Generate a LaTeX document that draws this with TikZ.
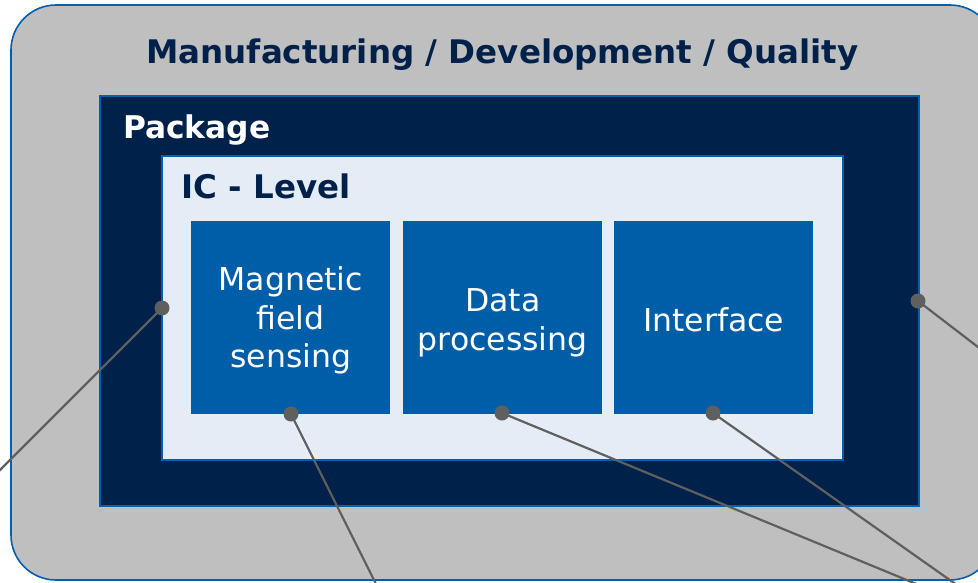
\documentclass[tikz,border=0pt]{standalone}
\usepackage{fontspec}
\setmainfont{DejaVu Sans}
\definecolor{outergray}{RGB}{191,191,191}
\definecolor{navy}{RGB}{0,33,74}
\definecolor{edgeblue}{RGB}{0,96,176}
\definecolor{boxblue}{RGB}{0,94,168}
\definecolor{icfill}{RGB}{228,236,245}
\definecolor{linegray}{RGB}{95,95,95}
\begin{document}
\begin{tikzpicture}[x=1pt,y=-1pt,
  framebox/.style={draw=edgeblue, line width=2pt, anchor=north west, inner sep=0pt, outer sep=0pt},
  funcbox/.style={fill=boxblue, draw=none, anchor=north west, inner sep=0pt, minimum width=199pt, minimum height=193pt},
  functext/.style={text=white, align=center, font=\fontsize{31.5}{38.5}\selectfont},
  heading/.style={font=\bfseries\fontsize{32.5}{38}\selectfont},
  dot/.style={circle, fill=linegray, inner sep=0pt, minimum size=15pt},
  leader/.style={draw=linegray, line width=2.2pt}
]
\useasboundingbox (0,0) rectangle (978,582);
\clip (0,0) rectangle (978,582);
% outer frame
\draw[fill=outergray, draw=edgeblue, line width=1.6pt, rounded corners=45pt] (11,5) rectangle (995,580);
\node[heading, text=navy, anchor=base] (title) at (502.5,63) {Manufacturing / Development / Quality};
% package
\node[framebox, fill=navy, minimum width=819pt, minimum height=410pt] (pkg) at (100,96) {};
\node[heading, font=\bfseries\fontsize{31.3}{38}\selectfont, text=white, anchor=base west] (pkglabel) at (119.5,138) {Package};
% IC level
\node[framebox, fill=icfill, minimum width=681pt, minimum height=304pt] (ic) at (162,156) {};
\node[heading, text=navy, anchor=base west] (iclabel) at (178,198) {IC - Level};
% function boxes
\node[funcbox] (mag) at (191,221) {};
\node[funcbox] (data) at (403,221) {};
\node[funcbox] (intf) at (614,221) {};
\node[functext] (magt) at ([yshift=-3pt]mag.center) {Magnetic\\field\\sensing};
\node[functext] (datat) at ([yshift=-5pt]data.center) {Data\\processing};
\node[functext] (intft) at ([yshift=-2pt]intf.center) {Interface};
% dots
\node[dot] (d1) at (162,308) {};
\node[dot] (d2) at (918,301) {};
\node[dot] (d3) at (291,414) {};
\node[dot] (d4) at (502,413) {};
\node[dot] (d5) at (713,413) {};
% free ends
\coordinate (e1) at (-20,490);
\coordinate (e2) at (1004,367);
\coordinate (e3) at (385,602);
\coordinate (e4) at (960,602);
\coordinate (e5) at (981,602);
\draw[leader] (d1.center) -- (e1);
\draw[leader] (d2.center) -- (e2);
\draw[leader] (d3.center) -- (e3);
\draw[leader] (d4.center) -- (e4);
\draw[leader] (d5.center) -- (e5);
\end{tikzpicture}
\end{document}
